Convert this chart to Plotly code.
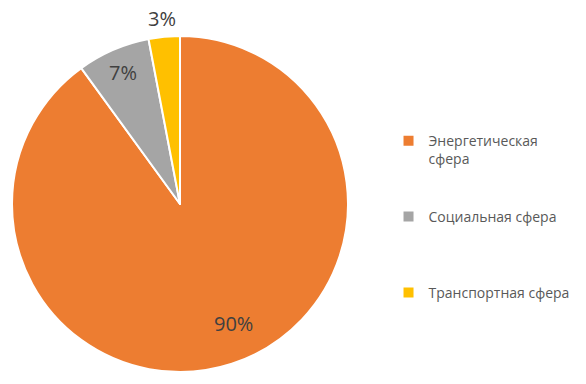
import math
import plotly.graph_objects as go

categories = ["Энергетическая", "Социальная сфера", "Транспортная сфера"]
legend_labels = ["Энергетическая<br>сфера<br> <br> ", "Социальная сфера<br> <br> <br> ", "Транспортная сфера"]
values = [90, 7, 3]
colors = ["#ED7D31", "#A5A5A5", "#FFC000"]

# label placement style (radius factor, angle nudge in degrees)
label_radius = [0.78, 0.855, 1.11]
label_nudge = [-6, 0, 0]

W, H = 586, 384
cx, cy, r = 180, 204, 168

fig = go.Figure(go.Pie(
    labels=legend_labels,
    values=values,
    sort=False,
    direction="clockwise",
    rotation=0,
    marker=dict(colors=colors, line=dict(color="white", width=2)),
    textinfo="none",
    domain=dict(x=[(cx - r) / W, (cx + r) / W], y=[(H - cy - r) / H, (H - cy + r) / H]),
    customdata=categories,
    hovertemplate="%{customdata}: %{percent}<extra></extra>",
))

total = sum(values)
cum = 0
annotations = []
for v, rf, nudge in zip(values, label_radius, label_nudge):
    mid = (cum + v / 2) / total * 360 + nudge
    cum += v
    d = rf * r
    sx = cx + d * math.sin(math.radians(mid))
    sy = cy - d * math.cos(math.radians(mid))
    annotations.append(dict(
        x=sx / W, y=(H - sy) / H, xref="paper", yref="paper",
        text=f"{round(v / total * 100)}%", showarrow=False,
        font=dict(family="Open Sans", size=20, color="#404040"),
        xanchor="center", yanchor="middle",
    ))

fig.update_layout(
    width=W, height=H,
    margin=dict(l=0, r=0, t=0, b=0),
    paper_bgcolor="white",
    showlegend=True,
    annotations=annotations,
    legend=dict(
        x=0.663, y=0.674, xanchor="left", yanchor="top",
        font=dict(family="Open Sans", size=14, color="#595959"),
        valign="top",
        tracegroupgap=0,
    ),
)

fig.write_html("out.html", config={"displayModeBar": False},
               post_script="document.body.style.margin='0px';")
